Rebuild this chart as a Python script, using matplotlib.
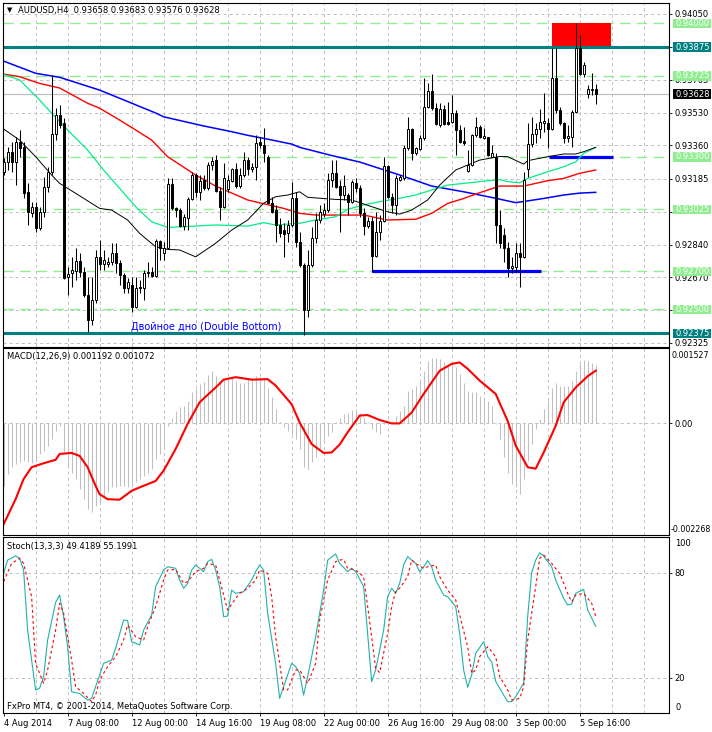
import matplotlib
matplotlib.use('Agg')
import matplotlib.pyplot as plt
from matplotlib.patches import Rectangle

plt.rcParams['font.family'] = ['DejaVu Sans']
plt.rcParams['lines.scale_dashes'] = False

SYMBOL = 'AUDUSD,H4'

# H4 candles, bar 0 = 4 Aug 2014 16:00
OPEN = [
    0.93222, 0.93275, 0.93327, 0.93275, 0.93380, 0.93353, 0.93117, 0.93007, 0.93039, 0.92925,
    0.93013, 0.93144, 0.93222, 0.93420, 0.93519, 0.93476, 0.92668, 0.92689, 0.92703, 0.92754,
    0.92698, 0.92576, 0.92445, 0.92550, 0.92777, 0.92738, 0.92738, 0.92750, 0.92798, 0.92745,
    0.92681, 0.92611, 0.92630, 0.92515, 0.92619, 0.92611, 0.92689, 0.92698, 0.92675, 0.92859,
    0.92798, 0.92823, 0.93157, 0.93030, 0.93021, 0.92939, 0.92982, 0.93077, 0.93205, 0.93117,
    0.93178, 0.93135, 0.93257, 0.93283, 0.93122, 0.93038, 0.93130, 0.93175, 0.93234, 0.93147,
    0.93205, 0.93283, 0.93234, 0.93245, 0.93380, 0.93362, 0.93301, 0.93059, 0.93021, 0.92943,
    0.92917, 0.92903, 0.92943, 0.93082, 0.92855, 0.92733, 0.92497, 0.92733, 0.92873, 0.92969,
    0.93000, 0.93021, 0.93179, 0.93213, 0.93147, 0.93100, 0.93100, 0.93065, 0.93164, 0.93135,
    0.93004, 0.92939, 0.92965, 0.92780, 0.92908, 0.92965, 0.93252, 0.93091, 0.93047, 0.93179,
    0.93187, 0.93345, 0.93446, 0.93318, 0.93339, 0.93397, 0.93563, 0.93645, 0.93554, 0.93467,
    0.93549, 0.93484, 0.93484, 0.93532, 0.93441, 0.93385, 0.93228, 0.93257, 0.93414, 0.93455,
    0.93399, 0.93402, 0.93301, 0.93301, 0.92943, 0.92890, 0.92820, 0.92716, 0.92724, 0.92798,
    0.92777, 0.93234, 0.93367, 0.93420, 0.93444, 0.93479, 0.93476, 0.93444, 0.93712, 0.93546,
    0.93476, 0.93397, 0.93406, 0.93537, 0.93872, 0.93734, 0.93629, 0.93650, 0.93658,
]
HIGH = [
    0.93292, 0.93353, 0.93380, 0.93406, 0.93441, 0.93380, 0.93161, 0.93065, 0.93065, 0.93039,
    0.93196, 0.93248, 0.93729, 0.93554, 0.93572, 0.93502, 0.92724, 0.92777, 0.92820, 0.92794,
    0.92724, 0.92672, 0.92672, 0.92812, 0.92864, 0.92812, 0.92777, 0.92850, 0.92847, 0.92759,
    0.92689, 0.92663, 0.92672, 0.92672, 0.92654, 0.92707, 0.92750, 0.92724, 0.92868, 0.92864,
    0.92855, 0.93187, 0.93187, 0.93038, 0.93030, 0.93003, 0.93091, 0.93222, 0.93213, 0.93205,
    0.93205, 0.93275, 0.93301, 0.93310, 0.93144, 0.93266, 0.93205, 0.93240, 0.93266, 0.93240,
    0.93327, 0.93301, 0.93266, 0.93414, 0.93406, 0.93449, 0.93310, 0.93091, 0.93047, 0.92977,
    0.92951, 0.92968, 0.93170, 0.93117, 0.92908, 0.92742, 0.92812, 0.92934, 0.93004, 0.93047,
    0.93056, 0.93213, 0.93283, 0.93283, 0.93179, 0.93205, 0.93109, 0.93179, 0.93187, 0.93152,
    0.93030, 0.92986, 0.92986, 0.93013, 0.92995, 0.93297, 0.93257, 0.93109, 0.93205, 0.93205,
    0.93362, 0.93507, 0.93449, 0.93350, 0.93414, 0.93712, 0.93685, 0.93733, 0.93581, 0.93581,
    0.93572, 0.93589, 0.93624, 0.93546, 0.93467, 0.93458, 0.93336, 0.93420, 0.93511, 0.93467,
    0.93449, 0.93406, 0.93362, 0.93322, 0.93021, 0.92925, 0.92855, 0.92777, 0.92847, 0.92847,
    0.93222, 0.93476, 0.93507, 0.93476, 0.93549, 0.93633, 0.93502, 0.93869, 0.93869, 0.93563,
    0.93484, 0.93467, 0.93546, 0.93999, 0.93939, 0.93799, 0.93677, 0.93738, 0.93683,
]
LOW = [
    0.93205, 0.93231, 0.93222, 0.93152, 0.93301, 0.93082, 0.92943, 0.92986, 0.92908, 0.92917,
    0.92986, 0.93117, 0.93205, 0.93388, 0.93449, 0.92660, 0.92576, 0.92619, 0.92654, 0.92672,
    0.92567, 0.92384, 0.92419, 0.92532, 0.92707, 0.92707, 0.92724, 0.92733, 0.92689, 0.92627,
    0.92584, 0.92584, 0.92488, 0.92506, 0.92584, 0.92550, 0.92672, 0.92672, 0.92672, 0.92759,
    0.92759, 0.92820, 0.93021, 0.92986, 0.92934, 0.92917, 0.92917, 0.93074, 0.93091, 0.93074,
    0.93126, 0.93126, 0.93231, 0.93117, 0.92968, 0.93030, 0.93117, 0.93170, 0.93135, 0.93135,
    0.93196, 0.93205, 0.93222, 0.93179, 0.93345, 0.93275, 0.93056, 0.93004, 0.92855, 0.92882,
    0.92777, 0.92855, 0.92934, 0.92829, 0.92724, 0.92366, 0.92462, 0.92724, 0.92847, 0.92951,
    0.92986, 0.93013, 0.93144, 0.93135, 0.92908, 0.93074, 0.92996, 0.93056, 0.93117, 0.92986,
    0.92890, 0.92925, 0.92698, 0.92777, 0.92864, 0.92960, 0.93082, 0.93004, 0.92995, 0.93175,
    0.93179, 0.93336, 0.93283, 0.93310, 0.93336, 0.93388, 0.93554, 0.93546, 0.93467, 0.93458,
    0.93467, 0.93467, 0.93476, 0.93310, 0.93371, 0.93362, 0.93222, 0.93252, 0.93406, 0.93397,
    0.93395, 0.93305, 0.93301, 0.92847, 0.92820, 0.92750, 0.92672, 0.92689, 0.92698, 0.92619,
    0.92768, 0.93196, 0.93350, 0.93374, 0.93397, 0.93432, 0.93345, 0.93441, 0.93528, 0.93467,
    0.93371, 0.93380, 0.93353, 0.93532, 0.93729, 0.93720, 0.93607, 0.93624, 0.93576,
]
CLOSE = [
    0.93275, 0.93327, 0.93275, 0.93380, 0.93345, 0.93109, 0.93013, 0.93039, 0.92925, 0.93013,
    0.93144, 0.93222, 0.93420, 0.93519, 0.93467, 0.92663, 0.92686, 0.92707, 0.92754, 0.92698,
    0.92576, 0.92445, 0.92550, 0.92777, 0.92738, 0.92759, 0.92750, 0.92798, 0.92745, 0.92681,
    0.92611, 0.92646, 0.92515, 0.92611, 0.92611, 0.92689, 0.92698, 0.92675, 0.92859, 0.92820,
    0.92823, 0.93157, 0.93030, 0.93021, 0.92939, 0.92986, 0.93077, 0.93205, 0.93117, 0.93175,
    0.93135, 0.93257, 0.93280, 0.93122, 0.93038, 0.93187, 0.93179, 0.93234, 0.93147, 0.93205,
    0.93283, 0.93234, 0.93248, 0.93374, 0.93362, 0.93318, 0.93059, 0.93013, 0.92943, 0.92899,
    0.92896, 0.92943, 0.93082, 0.92855, 0.92733, 0.92497, 0.92733, 0.92873, 0.92969, 0.93013,
    0.93021, 0.93179, 0.93213, 0.93144, 0.93100, 0.93147, 0.93065, 0.93170, 0.93135, 0.93004,
    0.92939, 0.92965, 0.92780, 0.92908, 0.92965, 0.93252, 0.93091, 0.93047, 0.93187, 0.93196,
    0.93345, 0.93446, 0.93318, 0.93345, 0.93397, 0.93563, 0.93645, 0.93554, 0.93472, 0.93549,
    0.93472, 0.93472, 0.93532, 0.93441, 0.93380, 0.93371, 0.93257, 0.93414, 0.93455, 0.93402,
    0.93410, 0.93310, 0.93318, 0.92943, 0.92847, 0.92820, 0.92716, 0.92728, 0.92798, 0.92777,
    0.93179, 0.93367, 0.93420, 0.93446, 0.93484, 0.93488, 0.93446, 0.93712, 0.93546, 0.93479,
    0.93397, 0.93409, 0.93537, 0.93872, 0.93734, 0.93781, 0.93656, 0.93658, 0.93628,
]

# moving averages, read at sample bars
BLUE_IDX = [0, 8, 14, 24, 38, 40, 50, 57, 61, 65, 72, 74, 82, 89, 99, 107, 115, 123, 128, 130,
            135, 140, 144, 148]
BLUE_MA = [0.93802, 0.93738, 0.93717, 0.93650, 0.93530, 0.93510, 0.93462, 0.93432, 0.93413, 0.93397,
           0.93367, 0.93350, 0.93307, 0.93273, 0.93205, 0.93147, 0.93117, 0.93083, 0.93060, 0.93066,
           0.93082, 0.93100, 0.93110, 0.93114]
RED_IDX = [0, 4, 9, 14, 21, 24, 29, 33, 37, 41, 48, 53, 61, 70, 74, 78, 90, 96, 103, 107,
           111, 115, 119, 124, 130, 136, 140, 144, 148]
RED_MA = [0.93734, 0.93720, 0.93685, 0.93661, 0.93581, 0.93555, 0.93493, 0.93441, 0.93388, 0.93301,
          0.93205, 0.93147, 0.93074, 0.93030, 0.93004, 0.92995, 0.92995, 0.92969, 0.92973, 0.93004,
          0.93056, 0.93082, 0.93112, 0.93147, 0.93147, 0.93175, 0.93187, 0.93214, 0.93231]
GREEN_IDX = [0, 4, 9, 13, 16, 21, 25, 33, 37, 41, 45, 53, 61, 65, 68, 74, 78, 83, 86, 90,
             94, 99, 103, 107, 111, 115, 119, 124, 126, 129, 131, 136, 140, 143, 145, 148]
GREEN_MA = [0.93732, 0.93703, 0.93598, 0.93506, 0.93441, 0.93336, 0.93231, 0.93039, 0.92960, 0.92930,
            0.92934, 0.92943, 0.92937, 0.92955, 0.92943, 0.92952, 0.92969, 0.92986, 0.93025, 0.93048,
            0.93065, 0.93083, 0.93100, 0.93126, 0.93152, 0.93161, 0.93170, 0.93181, 0.93170, 0.93164,
            0.93187, 0.93222, 0.93248, 0.93274, 0.93318, 0.93350]
BLACK_IDX = [0, 4, 8, 12, 14, 18, 24, 27, 31, 34, 38, 41, 44, 48, 53, 57, 61, 65, 68, 71,
             74, 76, 83, 87, 92, 96, 99, 102, 106, 109, 113, 116, 119, 124, 126, 130, 131, 136, 140, 143,
             145, 148]
BLACK_MA = [0.93446, 0.93388, 0.93301, 0.93205, 0.93161, 0.93109, 0.93030, 0.93021, 0.92969, 0.92899,
            0.92829, 0.92815, 0.92812, 0.92776, 0.92847, 0.92916, 0.92969, 0.93057, 0.93091, 0.93100,
            0.93117, 0.93088, 0.93077, 0.93074, 0.93039, 0.93012, 0.93000, 0.93021, 0.93074, 0.93152,
            0.93231, 0.93257, 0.93283, 0.93302, 0.93301, 0.93262, 0.93280, 0.93301, 0.93315, 0.93315,
            0.93327, 0.93350]

# drawn levels
TEAL_LEVELS = [0.93875, 0.92375]
GREEN_LEVELS = [0.94000, 0.93725, 0.93300, 0.93025, 0.92700, 0.92500]
SUPPORT = [(92, 134.25, 0.92700), (136.25, 152.3, 0.93300)]
RESIST_BOX = (137, 151.9, 0.93875, 0.94000)
PRICE_GRID = [0.94050, 0.93878, 0.93705, 0.93530, 0.93360, 0.93185, 0.93013, 0.92840, 0.92670,
              0.92495, 0.92325]
# grid labels that sit completely under a coloured level box are not printed
HIDDEN_GRID = [0.93878, 0.93013, 0.92495]

# MACD(12,26,9)
MACD_MAIN = [
    -0.00127, -0.00103, -0.00089, -0.00083, -0.00079, -0.00076, -0.00079, -0.00081, -0.00073, -0.00062,
    -0.00056, -0.00045, -0.00032, -0.00015, -0.00005, -0.00059, -0.00086, -0.00100, -0.00113, -0.00133,
    -0.00154, -0.00174, -0.00181, -0.00167, -0.00161, -0.00147, -0.00140, -0.00130, -0.00130, -0.00127,
    -0.00127, -0.00130, -0.00127, -0.00120, -0.00113, -0.00106, -0.00100, -0.00093, -0.00073, -0.00062,
    -0.00052, -0.00005, 0.00012, 0.00026, 0.00033, 0.00036, 0.00046, 0.00063, 0.00070, 0.00080,
    0.00085, 0.00098, 0.00106, 0.00097, 0.00087, 0.00091, 0.00090, 0.00094, 0.00087, 0.00083,
    0.00083, 0.00090, 0.00091, 0.00097, 0.00094, 0.00090, 0.00073, 0.00053, 0.00029, 0.00002,
    -0.00008, -0.00015, -0.00022, -0.00032, -0.00052, -0.00089, -0.00093, -0.00079, -0.00069, -0.00052,
    -0.00039, -0.00025, -0.00018, 0.00003, 0.00012, 0.00019, 0.00022, 0.00028, 0.00029, 0.00021,
    0.00012, 0.00003, -0.00012, -0.00018, -0.00022, -0.00001, 0.00002, 0.00005, 0.00016, 0.00026,
    0.00036, 0.00066, 0.00070, 0.00077, 0.00087, 0.00107, 0.00127, 0.00132, 0.00132, 0.00131,
    0.00124, 0.00117, 0.00121, 0.00114, 0.00100, 0.00083, 0.00066, 0.00063, 0.00063, 0.00056,
    0.00053, 0.00046, 0.00036, -0.00001, -0.00032, -0.00069, -0.00100, -0.00123, -0.00130, -0.00144,
    -0.00113, -0.00076, -0.00042, -0.00012, 0.00009, 0.00029, 0.00046, 0.00071, 0.00083, 0.00077,
    0.00077, 0.00077, 0.00087, 0.00107, 0.00127, 0.00129, 0.00127, 0.00123, 0.001192,
]
SIG_IDX = [0, 3, 5, 7, 10, 13, 14, 17, 19, 21, 23, 24, 26, 29, 32, 34, 38, 40, 43, 46,
           49, 53, 55, 58, 62, 66, 68, 72, 74, 77, 80, 82, 84, 86, 89, 91, 94, 97, 99, 102,
           105, 109, 112, 114, 116, 119, 123, 126, 128, 131, 133, 135, 138, 140, 143, 146, 148]
SIG = [-0.00205, -0.00154, -0.00113, -0.00089, -0.00081, -0.00074, -0.00062, -0.00060, -0.00066, -0.00089,
       -0.00127, -0.00144, -0.00154, -0.00155, -0.00137, -0.00130, -0.00117, -0.00096, -0.00052, -0.00001,
       0.00043, 0.00073, 0.00089, 0.00094, 0.00089, 0.00090, 0.00077, 0.00039, 0.00002, -0.00042,
       -0.00060, -0.00059, -0.00043, -0.00018, 0.00016, 0.00017, 0.00007, 0.0, 0.0, 0.00022,
       0.00060, 0.00107, 0.00121, 0.00124, 0.00111, 0.00087, 0.00060, 0.00005, -0.00045, -0.00089,
       -0.00092, -0.00059, -0.00005, 0.00043, 0.00073, 0.00096, 0.001072]

# Stoch(13,3,3)
K_IDX = [0, 1, 3, 4, 5, 6, 8, 9, 10, 11, 13, 14, 15, 16, 17, 19, 21, 22, 23, 25,
         27, 28, 30, 31, 32, 34, 35, 37, 38, 40, 41, 43, 44, 45, 46, 47, 48, 50, 51, 52,
         53, 54, 55, 56, 57, 58, 60, 62, 63, 64, 65, 66, 68, 69, 70, 72, 73, 74, 75, 76,
         78, 80, 81, 83, 84, 86, 87, 88, 90, 91, 92, 93, 95, 96, 97, 98, 99, 100, 101, 103,
         104, 105, 106, 107, 108, 110, 111, 113, 114, 115, 116, 117, 118, 120, 121, 122, 123, 125, 126, 127,
         128, 130, 131, 132, 133, 134, 135, 137, 138, 140, 141, 142, 143, 145, 146, 148]
STOCH_K = [79.6, 87.2, 89.6, 88.2, 81.5, 47.2, 13.0, 14.0, 20.6, 41.5,
           63.0, 67.2, 54.9, 37.7, 12.0, 11.0, 7.2, 8.2, 14.9, 28.2,
           30.1, 36.8, 53.0, 52.6, 40.6, 38.7, 47.2, 55.8, 72.0, 81.5,
           83.4, 82.5, 75.8, 71.1, 73.9, 81.5, 84.4, 80.6, 86.3, 87.6,
           81.5, 72.0, 54.9, 55.2, 70.1, 68.2, 69.1, 75.8, 80.6, 84.4,
           81.5, 56.8, 28.2, 8.2, 14.9, 28.2, 26.3, 22.5, 10.1, 20.6,
           43.4, 70.1, 87.2, 90.7, 85.3, 80.6, 82.5, 80.6, 72.0, 45.0,
           17.7, 24.4, 47.2, 66.3, 71.1, 68.2, 73.9, 84.4, 89.2, 85.3,
           80.6, 83.4, 86.9, 83.4, 75.8, 67.2, 66.3, 60.6, 45.3, 24.4,
           14.5, 21.5, 33.9, 40.6, 32.0, 29.0, 18.0, 10.1, 6.3, 6.3,
           9.1, 17.0, 55.0, 80.0, 87.2, 91.4, 89.5, 83.4, 75.8, 65.3,
           61.5, 62.1, 68.2, 70.5, 58.7, 49.4189]
D_IDX = [0, 2, 4, 5, 7, 8, 10, 11, 13, 14, 15, 17, 18, 20, 22, 23, 24, 26, 28, 30,
         31, 33, 35, 36, 38, 40, 41, 43, 45, 46, 48, 50, 51, 53, 54, 56, 58, 59, 61, 63,
         64, 66, 67, 68, 70, 71, 73, 74, 76, 78, 79, 81, 83, 84, 85, 86, 88, 90, 91, 92,
         93, 94, 96, 97, 98, 99, 101, 102, 103, 105, 106, 108, 109, 111, 113, 114, 116, 117, 118, 119,
         121, 123, 124, 126, 127, 129, 130, 131, 133, 134, 135, 137, 139, 141, 142, 143, 145, 147, 148]
STOCH_D = [74.9, 85.3, 88.2, 85.3, 66.3, 28.2, 16.8, 24.4, 47.2, 62.5,
           57.0, 30.0, 14.9, 11.0, 6.3, 10.1, 18.7, 26.3, 32.0, 41.5,
           50.1, 43.4, 41.5, 49.1, 60.6, 75.8, 81.5, 81.9, 73.9, 74.9,
           80.6, 82.5, 85.3, 84.4, 75.8, 58.7, 65.3, 68.2, 71.1, 75.8,
           81.5, 79.6, 66.3, 43.4, 13.0, 13.0, 24.4, 24.4, 16.8, 28.2,
           53.0, 75.8, 86.3, 87.2, 87.6, 82.5, 81.5, 77.7, 60.6, 43.4,
           25.3, 22.9, 45.3, 60.6, 69.1, 71.1, 77.7, 87.2, 85.3, 82.5,
           83.4, 84.4, 77.7, 70.1, 64.4, 55.8, 37.7, 22.5, 24.4, 32.0,
           37.7, 32.0, 20.6, 13.0, 7.2, 8.2, 14.9, 41.5, 72.0, 88.2,
           90.1, 85.3, 79.6, 68.2, 63.4, 67.2, 68.2, 62.5, 55.1991]

DATE_POS = [0, 16, 32, 48, 64, 80, 96, 112, 128, 144]
DATE_LABELS = ['4 Aug 2014', '7 Aug 08:00', '12 Aug 00:00', '14 Aug 16:00', '19 Aug 08:00',
               '22 Aug 00:00', '26 Aug 16:00', '29 Aug 08:00', '3 Sep 00:00', '5 Sep 16:00']

# layout in pixels
W, H = 712, 732
FS = 6
LEFT, RIGHT = 3.0, 669.3
PANELS = {'main': (2.7, 346.7), 'macd': (348.3, 535.0), 'stoch': (536.7, 713.3)}
LIMS = {'main': (0.92305, 0.94108), 'macd': (-0.002268, 0.001527), 'stoch': (-0.34, 100.57)}
XLIM = (-0.15, 166.4)
GRID_COLOR = '#C0C0C0'
GRID_DASH = (0, (2.2, 2.2))

fig = plt.figure(figsize=(W / 100, H / 100), dpi=100)
fig.patch.set_facecolor('white')


def px_text(x, y, s, **kw):
    kw.setdefault('fontsize', FS)
    kw.setdefault('color', 'black')
    fig.text(x / W, 1 - y / H, s, va='center', ha='left', **kw)


def value_to_px(panel, v):
    top, bottom = PANELS[panel]
    lo, hi = LIMS[panel]
    return top + (hi - v) / (hi - lo) * (bottom - top)


def level_box(panel, value, bg):
    y = value_to_px(panel, value)
    fig.patches.append(Rectangle((673 / W, 1 - (y + 4.8) / H), 38 / W, 9.6 / H,
                                 transform=fig.transFigure, facecolor=bg,
                                 edgecolor='none', zorder=5))
    px_text(675, y, f'{value:.5f}', color='white', zorder=6)


def add_panel(name):
    top, bottom = PANELS[name]
    ax = fig.add_axes([LEFT / W, 1 - bottom / H, (RIGHT - LEFT) / W, (bottom - top) / H])
    ax.set_xlim(*XLIM)
    ax.set_ylim(*LIMS[name])
    for s in ax.spines.values():
        s.set_color('black')
        s.set_linewidth(0.8)
    ax.yaxis.tick_right()
    ax.tick_params(axis='y', length=2.2, width=0.6, pad=1.8, labelsize=FS, colors='black')
    ax.tick_params(axis='x', length=0, labelbottom=False)
    for gx in range(8, 166, 8):
        ax.axvline(gx, color=GRID_COLOR, lw=0.7, ls=GRID_DASH, zorder=0)
    return ax


# ---- price panel
ax = add_panel('main')
ax.set_yticks(PRICE_GRID)
ax.set_yticklabels(['' if v in HIDDEN_GRID else f'{v:.5f}' for v in PRICE_GRID])
for v in PRICE_GRID:
    ax.axhline(v, color=GRID_COLOR, lw=0.7, ls=GRID_DASH, zorder=0)
for v in GREEN_LEVELS:
    ax.axhline(v, color='#90EE90', lw=1.0, ls=(0, (7.5, 4.5)), zorder=1)
ax.axhline(CLOSE[-1], color=GRID_COLOR, lw=0.9, zorder=1)

x0, x1, b0, b1 = RESIST_BOX
ax.add_patch(Rectangle((x0, b0), x1 - x0, b1 - b0, facecolor='#FF0000', edgecolor='none', zorder=1.2))
for v in TEAL_LEVELS:
    ax.axhline(v, color='#008080', lw=2.2, zorder=1.3)
for sx0, sx1, lvl in SUPPORT:
    ax.hlines(lvl, sx0, sx1, color='#0000FF', lw=2.3, zorder=1.5)

ax.plot(BLUE_IDX, BLUE_MA, color='#0000FF', lw=1.1, zorder=2)
ax.plot(RED_IDX, RED_MA, color='#FF0000', lw=1.0, zorder=2)
ax.plot(GREEN_IDX, GREEN_MA, color='#00EE88', lw=0.9, zorder=2)
ax.plot(BLACK_IDX, BLACK_MA, color='black', lw=0.7, zorder=2)

for i in range(len(CLOSE)):
    o, h, l, c = OPEN[i], HIGH[i], LOW[i], CLOSE[i]
    ax.vlines(i, l, h, color='black', lw=0.75, zorder=3)
    lo, hi = min(o, c), max(o, c)
    face = 'white' if c >= o else 'black'
    ax.add_patch(Rectangle((i - 0.25, lo), 0.5, max(hi - lo, 1e-7), facecolor=face,
                           edgecolor='black', lw=0.7, zorder=4))

ax.text(31.8, 0.92410, 'Двойное дно (Double Bottom)', color='#0000FF', fontsize=7,
        va='center', ha='left', zorder=5)

for v in GREEN_LEVELS:
    level_box('main', v, '#90EE90')
for v in TEAL_LEVELS:
    level_box('main', v, '#008080')
level_box('main', CLOSE[-1], 'black')

px_text(6.5, 10.5, '▼', fontsize=5)
px_text(18.5, 10.5, f'{SYMBOL}  {OPEN[-1]:.5f} {HIGH[-1]:.5f} {LOW[-1]:.5f} {CLOSE[-1]:.5f}')

# ---- MACD panel
ax2 = add_panel('macd')
ax2.set_yticks([0.0])
ax2.set_yticklabels(['0.00'])
ax2.axhline(0, color=GRID_COLOR, lw=0.7, ls=GRID_DASH, zorder=0)
ax2.vlines(range(len(MACD_MAIN)), 0, MACD_MAIN, color=GRID_COLOR, lw=0.75, zorder=1)
ax2.plot(SIG_IDX, SIG, color='#FF0000', lw=1.5, zorder=2)
px_text(671.5, 355, f'{LIMS["macd"][1]:.6f}', fontsize=5.7)
px_text(670.5, 529, f'{LIMS["macd"][0]:.6f}', fontsize=5.7)
px_text(7, 357, f'MACD(12,26,9) {MACD_MAIN[-1]:.6f} {SIG[-1]:.6f}')

# ---- Stochastic panel
ax3 = add_panel('stoch')
ax3.set_yticks([20, 80])
ax3.set_yticklabels(['20', '80'])
for v in (20, 80):
    ax3.axhline(v, color=GRID_COLOR, lw=0.7, ls=GRID_DASH, zorder=0)
ax3.plot(K_IDX, STOCH_K, color='#20B2AA', lw=0.8, zorder=2)
ax3.plot(D_IDX, STOCH_D, color='#FF0000', lw=0.8, ls=(0, (2.0, 2.0)), zorder=2)
px_text(675, 544, '100')
px_text(675, 707, '0')
px_text(7, 546.5, f'Stoch(13,3,3) {STOCH_K[-1]:.4f} {STOCH_D[-1]:.4f}')
px_text(7, 706.5, 'FxPro MT4, © 2001-2014, MetaQuotes Software Corp.')

ax3.set_xticks(DATE_POS)
ax3.set_xticklabels(DATE_LABELS, ha='left')
ax3.tick_params(axis='x', length=2.5, width=0.6, pad=1.5, labelsize=FS, labelbottom=True,
                colors='black')

fig.savefig('out.png', dpi=100, facecolor='white')
plt.close()
